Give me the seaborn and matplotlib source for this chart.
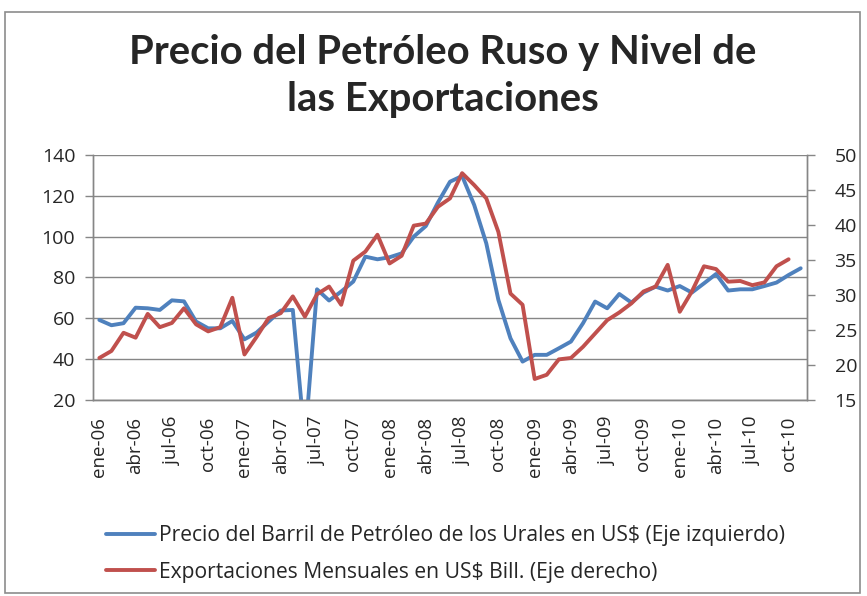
import numpy as np
import pandas as pd
import matplotlib
matplotlib.use('Agg')
import matplotlib.pyplot as plt
import seaborn as sns
from matplotlib.patches import Rectangle

sns.set_style('white')
plt.rcParams['font.family'] = ['Open Sans', 'DejaVu Sans']

meses = ['ene', 'feb', 'mar', 'abr', 'may', 'jun', 'jul', 'ago', 'sep', 'oct', 'nov', 'dic']
anios = ['06', '07', '08', '09', '10']

# precio del barril de los Urales (US$), ene-06 .. nov-10
precio = [59.2, 56.6, 57.6, 65.2, 64.9, 64.1, 68.8, 68.3, 58.4, 55.1, 55.1, 58.7,
          49.7, 53.0, 58.4, 63.8, 64.1, 0.0, 74.2, 68.7, 73.1, 78.0, 90.2, 88.9,
          89.9, 91.8, 100.0, 105.2, 116.7, 126.9, 129.7, 115.5, 96.7, 69.0, 50.2, 38.8,
          42.1, 42.1, 45.3, 48.6, 57.6, 68.2, 64.9, 71.9, 67.7, 72.6, 75.5, 73.6,
          75.8, 72.6, 77.1, 81.7, 73.6, 74.2, 74.2, 75.8, 77.5, 81.2, 84.5]

# exportaciones mensuales (US$ bill.), ene-06 .. oct-10
export = [21.0, 22.0, 24.6, 23.9, 27.3, 25.4, 26.0, 28.1, 25.8, 24.8, 25.4, 29.6,
          21.5, 24.0, 26.7, 27.4, 29.8, 26.9, 30.1, 31.2, 28.6, 34.9, 36.2, 38.6,
          34.5, 35.6, 39.9, 40.2, 42.6, 43.8, 47.4, 45.7, 43.8, 39.0, 30.2, 28.6,
          18.0, 18.6, 20.8, 21.0, 22.6, 24.5, 26.4, 27.5, 28.8, 30.5, 31.2, 34.3,
          27.6, 30.5, 34.1, 33.7, 31.9, 32.0, 31.4, 31.8, 34.1, 35.1]

etiquetas = [m + '-' + a for a in anios for m in meses][:len(precio)]

df1 = pd.DataFrame({'mes': np.arange(len(precio)), 'precio': precio})
df2 = pd.DataFrame({'mes': np.arange(len(export)), 'export': export})

azul = '#4F81BD'
rojo = '#C0504D'
gris = '#868686'

fig = plt.figure(figsize=(8.67, 5.96), dpi=100)
ax = fig.add_axes([0.1076, 0.3289, 0.8229, 0.4111])
ax2 = ax.twinx()

sns.lineplot(data=df1, x='mes', y='precio', ax=ax, color=azul, linewidth=2.8,
             label='Precio del Barril de Petróleo de los Urales en US$ (Eje izquierdo)', legend=False)
sns.lineplot(data=df2, x='mes', y='export', ax=ax2, color=rojo, linewidth=2.8,
             label='Exportaciones Mensuales en US$ Bill. (Eje derecho)', legend=False)

n = len(precio)
ax.set_xlim(-0.5, n - 0.5)
ax.set_ylim(20, 140)
ax.set_yticks(range(20, 141, 20))
ax2.set_ylim(15, 50)
ax2.set_yticks(range(15, 51, 5))

ax.set_xticks(np.arange(0, n, 3))
ax.set_xticklabels(etiquetas[::3], rotation=90)
ax.set_xticks(np.arange(-0.5, n, 3), minor=True)
ax.tick_params(axis='x', which='major', length=0, pad=12, labelsize=13.5)
ax.tick_params(axis='x', which='minor', length=5, width=1, color=gris, direction='out')
ax.tick_params(axis='y', length=6, width=1, color=gris, labelsize=14, pad=7, left=True)
ax2.tick_params(axis='y', length=6, width=1, color=gris, labelsize=14, pad=14, right=True)

ax.grid(axis='y', color=gris, linewidth=1)
ax.set_axisbelow(True)
for a in (ax, ax2):
    a.set_xlabel('')
    a.set_ylabel('')
    for s in ('left', 'bottom', 'right'):
        a.spines[s].set_color(gris)
        a.spines[s].set_linewidth(1)
    a.spines['top'].set_visible(False)

fig.text(0.511, 0.8725, 'Precio del Petróleo Ruso y Nivel de\nlas Exportaciones',
         ha='center', va='center', fontsize=28.8, fontweight='bold', linespacing=1.35,
         family=['Lato', 'DejaVu Sans'])

h1, l1 = ax.get_legend_handles_labels()
h2, l2 = ax2.get_legend_handles_labels()
fig.legend(h1 + h2, l1 + l2, loc='lower left', bbox_to_anchor=(0.1223, 0.022),
           frameon=False, fontsize=15.2, handlelength=2.3, handletextpad=0.2,
           labelspacing=0.75, borderpad=0, borderaxespad=0)

fig.patches.append(Rectangle((0.006, 0.005), 0.986, 0.975, transform=fig.transFigure,
                             fill=False, edgecolor='#8c8c8c', linewidth=1.2))

fig.savefig('out.png', dpi=100)
